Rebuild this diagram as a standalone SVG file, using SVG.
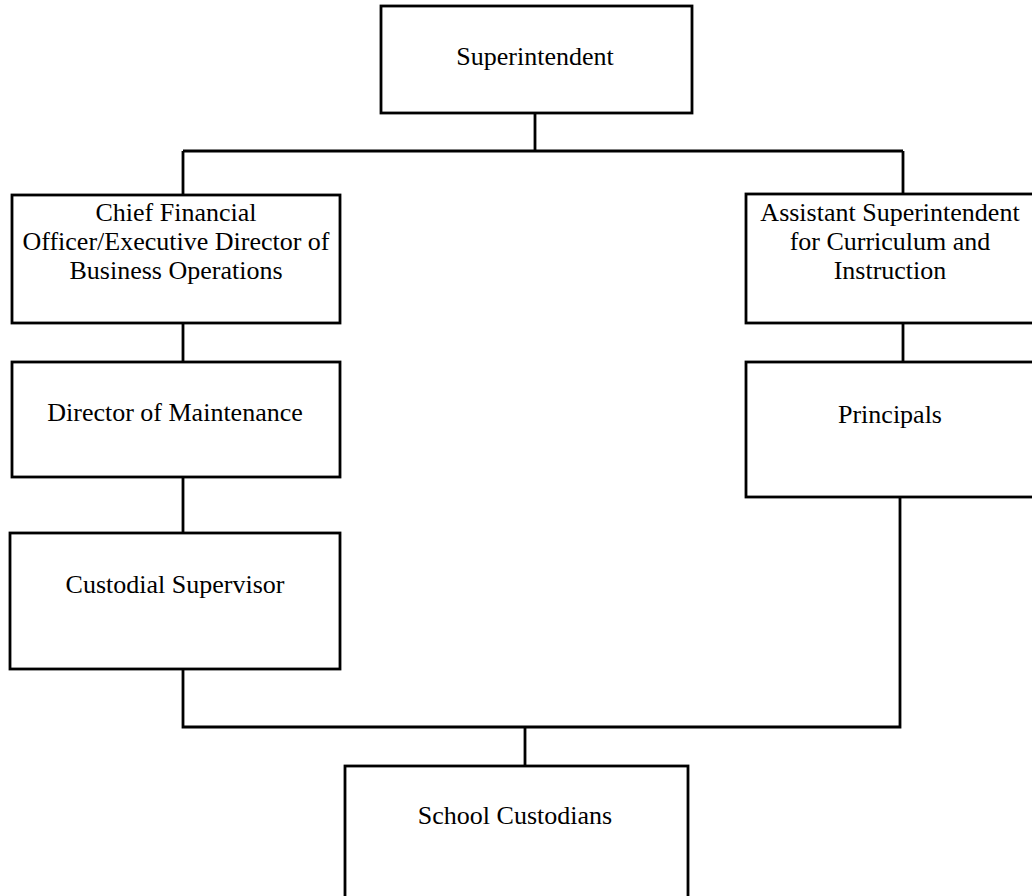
<svg xmlns="http://www.w3.org/2000/svg" width="1032" height="896" viewBox="0 0 1032 896">
<style>
.box{fill:#fff;stroke:#000;stroke-width:2.8}
.lbl{font-family:"Liberation Serif","Times New Roman",serif;font-size:26px;fill:#000;text-anchor:middle}
.conn{fill:none;stroke:#000;stroke-width:2.8}
</style>
<rect width="1032" height="896" fill="#fff"/>
<g id="connectors">
<path class="conn" d="M535 113V151M183 151H903M183 151V195M903 151V194"/>
<path class="conn" d="M183 323V362M183 477V533M183 669V727H900V497"/>
<path class="conn" d="M903 323V362"/>
<path class="conn" d="M525 727V766"/>
</g>
<g id="superintendent">
<rect class="box" x="381" y="6" width="311" height="107"/>
<text class="lbl" x="535" y="65">Superintendent</text>
</g>
<g id="cfo">
<rect class="box" x="12" y="195" width="328" height="128"/>
<text class="lbl" x="176" y="221">Chief Financial</text>
<text class="lbl" x="176" y="250">Officer/Executive Director of</text>
<text class="lbl" x="176" y="279">Business Operations</text>
</g>
<g id="asst-super">
<rect class="box" x="746" y="194" width="300" height="129"/>
<text class="lbl" x="890" y="221">Assistant Superintendent</text>
<text class="lbl" x="890" y="250">for Curriculum and</text>
<text class="lbl" x="890" y="279">Instruction</text>
</g>
<g id="director-maintenance">
<rect class="box" x="12" y="362" width="328" height="115"/>
<text class="lbl" x="175" y="421">Director of Maintenance</text>
</g>
<g id="principals">
<rect class="box" x="746" y="362" width="300" height="135"/>
<text class="lbl" x="890" y="423">Principals</text>
</g>
<g id="custodial-supervisor">
<rect class="box" x="10" y="533" width="330" height="136"/>
<text class="lbl" x="175" y="593">Custodial Supervisor</text>
</g>
<g id="school-custodians">
<rect class="box" x="345" y="766" width="343" height="140"/>
<text class="lbl" x="515" y="824">School Custodians</text>
</g>
</svg>
